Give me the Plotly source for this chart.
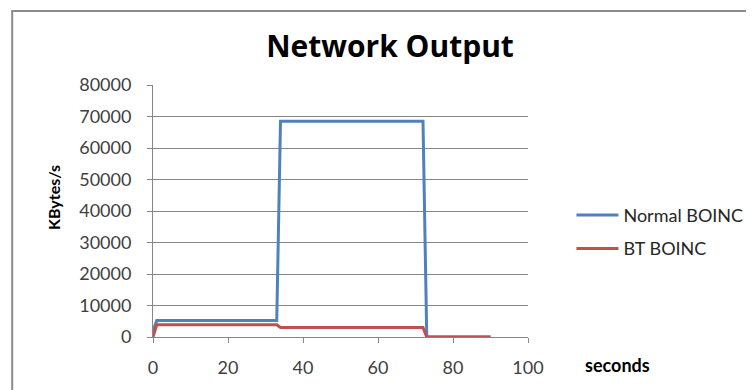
import plotly.graph_objects as go

# Data
time_s = [0, 1, 33, 34, 72, 73, 90]
normal_boinc = [2000, 5200, 5200, 68500, 68500, 0, 0]
bt_boinc = [0, 3900, 3900, 3000, 3000, 0, 0]
x_ticks = [0, 20, 40, 60, 80, 100]
y_ticks = [0, 10000, 20000, 30000, 40000, 50000, 60000, 70000, 80000]
y_tick_labels = [str(v) for v in y_ticks]

# page body has an 8px default margin; layout works in figure pixels
OFF = 8
W, H = 754, 390
L = 153 - OFF
T = 85 - OFF
R = W - (528.5 - OFF)
B = H - (337.3 - OFF)
pw, ph = W - L - R, H - T - B

def px_x(px):
    return (px - OFF - L) / pw

def px_y(py):
    return (H - B - (py - OFF)) / ph

FONT = "Lato"
GRID = "#868686"

fig = go.Figure()
fig.add_trace(go.Scatter(x=time_s, y=normal_boinc, mode="lines", name="Normal BOINC",
                         line=dict(color="#4F81BD", width=3), legendgroup="a"))
fig.add_trace(go.Scatter(x=time_s, y=bt_boinc, mode="lines", name="BT BOINC",
                         line=dict(color="#C0504D", width=3), legendgroup="b"))

fig.update_layout(
    width=W, height=H,
    margin=dict(l=L, r=R, t=T, b=B),
    paper_bgcolor="white", plot_bgcolor="white",
    font=dict(family=FONT, color="#404040"),
    title=dict(text="<b>Network Output</b>", x=(390 - OFF) / W, xanchor="center",
               xref="container", y=1 - (46 - OFF) / H, yanchor="middle", yref="container",
               font=dict(family="Open Sans", size=30, color="black")),
    showlegend=True,
    legend=dict(x=px_x(572), y=px_y(197), xanchor="left", yanchor="top",
                font=dict(family=FONT, size=18, color="#262626"),
                itemwidth=42, tracegroupgap=7, bgcolor="rgba(0,0,0,0)"),
    xaxis=dict(range=[0, 100], tickvals=x_ticks, showgrid=False, zeroline=False,
               showline=True, linecolor=GRID, linewidth=1, ticks="outside",
               ticklen=5, tickcolor=GRID, tickfont=dict(size=18, color="#404040"),
               ticklabelstandoff=9),
    yaxis=dict(range=[0, 80000], tickvals=y_ticks, ticktext=y_tick_labels,
               showgrid=True, gridcolor=GRID,
               gridwidth=1, zeroline=False, showline=True, linecolor=GRID, linewidth=1,
               ticks="outside", ticklen=5, tickcolor=GRID,
               tickfont=dict(size=18, color="#404040"), ticklabelstandoff=12),
)

# y-axis title placed where the reference has it
fig.add_annotation(text="<b>KBytes/s</b>", x=px_x(54), y=px_y(198), xref="paper",
                   yref="paper", showarrow=False, textangle=-90,
                   xanchor="center", yanchor="middle",
                   font=dict(family=FONT, size=16, color="black"))

fig.add_annotation(text="<b>seconds</b>", x=px_x(618), y=px_y(365), xref="paper",
                   yref="paper", showarrow=False, xanchor="center", yanchor="middle",
                   font=dict(family=FONT, size=18, color="black"))

fig.add_shape(type="rect", xref="paper", yref="paper",
              x0=px_x(12), y0=px_y(420), x1=px_x(800), y1=px_y(11),
              line=dict(color="#8C8C8C", width=2), fillcolor="rgba(0,0,0,0)", layer="below")

fig.write_html("out.html")
